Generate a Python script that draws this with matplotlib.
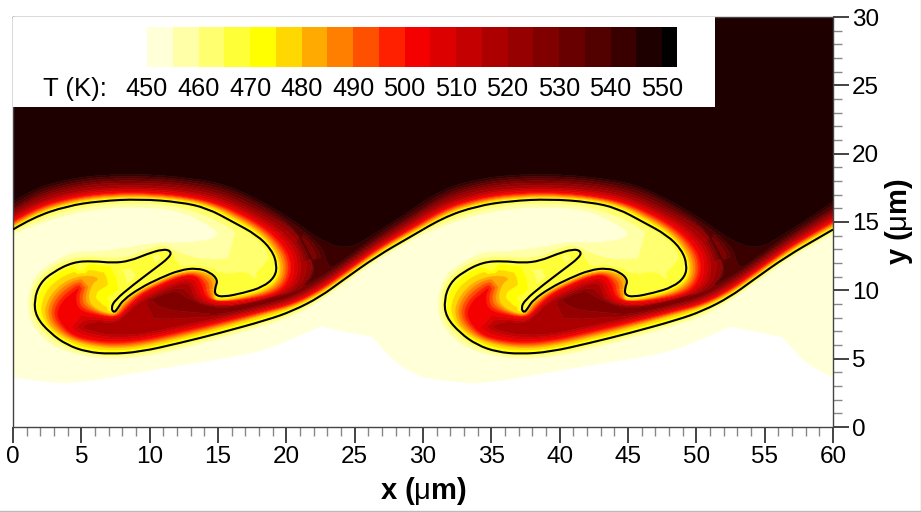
import numpy as np
import matplotlib
matplotlib.use("Agg")
from matplotlib import pyplot as plt
from matplotlib.lines import Line2D
from matplotlib.patches import PathPatch, Rectangle
from matplotlib.path import Path
from matplotlib.ticker import MultipleLocator
from matplotlib.transforms import Affine2D

plt.rcParams['font.family'] = ['Liberation Sans', 'DejaVu Sans']
plt.rcParams['mathtext.fontset'] = 'custom'
plt.rcParams['mathtext.rm'] = 'Liberation Sans'

# temperature contours, one period (x from 0 to 30 um)
T_ISO = 467
iso_line = [(0,14.45),(1.46,15.33),(3.95,16.17),(6.37,16.54),(9.29,16.68),(12.22,16.46),(14.2,16.02),(16.1,15.0),
    (17.85,14.05),(18.95,12.95),(19.32,11.85),(19.17,10.98),(18.29,10.24),(16.83,9.8),(15.37,9.51),(14.78,9.66),
    (14.78,10.17),(15.0,10.76),(14.41,11.34),(13.46,11.63),(12.22,11.49),(10.76,10.9),(9.29,10.17),(8.05,9.29),
    (7.68,8.71),(7.39,8.34),(7.17,8.71),(7.46,9.29),(8.78,10.39),(10.24,11.49),(11.49,12.44),(11.56,12.88),
    (10.98,13.02),(9.8,12.66),(8.56,12.15),(7.32,12.0),(5.85,12.15),(4.39,12.07),(2.93,11.34),(1.98,10.54),
    (1.54,9.29),(1.68,8.05),(2.71,6.88),(3.95,6.0),(5.41,5.49),(7.1,5.34),(9.29,5.49),(12.22,6.15),(15.15,6.88),
    (18.59,7.83),(20.49,8.5),(22.46,9.51),(24.15,10.75),(26.63,12.5),(29.05,13.9),(30,14.45)]
t450 = [(0,3.66),(2.71,3.22),(5.12,3.29),(8.78,3.95),(13.68,4.76),(18.07,5.49),(20.49,6.51),(22.46,7.32),(23.71,8.12),
    (24.29,8.12),(25.39,7.61),(26.85,5.98),(28.32,4.37),(30,3.66)]
t455 = [(0,14.1),(2.71,15.27),(6.37,16.0),(9.29,16.12),(11.98,15.87),(14.17,14.9),(15.34,13.92),(12.71,13.44),(10.76,13.56),
    (8.81,13.19),(6.37,12.83),(4.41,12.83),(3.2,12.22),(1.73,11.24),(1.12,9.78),(1.12,8.07),(1.85,6.85),(3.2,5.75),
    (5.39,5.14),(7.34,4.97),(9.54,5.14),(12.22,5.68),(15.15,6.48),(18.56,7.46),(20.51,8.1),(22.46,9.22),(24.41,10.6),
    (26.61,12.2),(29.05,13.6),(30,14.1)]
t460 = [(0,14.3),(2.71,15.56),(6.37,16.31),(9.29,16.41),(11.98,16.17),(14.42,15.39),(16.12,14.41),(17.59,13.44),
    (17.83,12.58),(16.12,12.34),(13.68,12.22),(11.98,12.83),(11.0,13.36),(9.78,13.0),(8.56,12.46),(7.34,12.34),
    (5.88,12.46),(4.41,12.41),(2.95,11.78),(1.73,10.75),(1.32,9.53),(1.42,8.07),(2.27,6.85),(3.56,5.95),(5.39,5.34),
    (7.34,5.17),(9.54,5.34),(12.22,5.9),(15.15,6.68),(18.56,7.63),(20.51,8.3),(22.46,9.37),(24.41,10.75),(26.61,12.35),
    (29.05,13.75),(30,14.3)]
t480 = [(0,14.7),(1.49,15.6),(3.93,16.41),(6.37,16.8),(9.29,16.9),(12.22,16.7),(14.42,16.24),(16.37,15.27),(18.07,14.29),
    (19.17,13.07),(19.66,11.85),(19.49,10.75),(18.56,9.97),(16.85,9.48),(15.39,9.24),(14.66,9.29),(14.78,9.9),(14.85,10.75),
    (14.29,11.19),(13.44,11.41),(12.22,11.29),(10.76,10.7),(9.29,9.97),(8.07,9.09),(7.64,8.44),(7.34,8.19),(6.12,8.56),
    (5.44,9.29),(5.76,10.51),(6.37,10.87),(5.39,11.12),(3.93,10.75),(2.95,9.9),(2.46,9.05),(2.34,8.31),(2.71,7.34),
    (3.93,6.48),(5.39,6.0),(7.34,5.75),(9.54,5.95),(12.22,6.56),(15.15,7.29),(18.56,8.27),(20.49,8.8),(22.46,9.78),
    (24.41,11.15),(26.61,12.75),(29.05,14.2),(30,14.7)]
t500 = [(0,15.05),(1.49,15.97),(3.93,16.73),(6.37,17.09),(9.29,17.19),(12.22,16.97),(14.66,16.48),(16.61,15.63),(18.56,14.53),
    (19.98,13.07),(20.39,11.85),(20.15,10.63),(19.29,9.75),(16.85,9.24),(14.9,9.1),(14.05,9.53),(13.81,10.51),(13.32,11.12),
    (12.22,11.0),(10.76,10.39),(9.29,9.66),(8.32,8.68),(7.59,7.95),(6.12,8.19),(4.78,8.56),(4.54,9.53),(4.9,10.27),(4.3,9.8),
    (3.6,9.2),(3.2,8.4),(3.4,7.7),(4.29,6.73),(5.64,6.36),(7.34,6.19),(9.54,6.36),(12.22,6.97),(15.15,7.66),(18.56,8.55),
    (20.49,9.05),(22.46,10.07),(24.41,11.45),(26.61,13.05),(29.05,14.5),(30,15.05)]
t515 = [(0,15.45),(1.49,16.33),(3.93,17.09),(6.37,17.46),(9.29,17.53),(12.22,17.34),(14.9,16.85),(17.1,15.87),(19.29,14.66),
    (20.76,13.19),(21.12,11.85),(20.88,10.51),(19.78,9.7),(17.1,9.0),(15.0,8.75),(13.32,9.29),(12.95,10.51),(12.22,10.51),
    (10.76,9.9),(9.29,9.17),(8.32,8.31),(7.59,7.58),(5.88,7.75),(4.9,7.3),(5.88,6.95),(7.34,6.7),
    (9.54,6.8),(12.22,7.41),(15.15,8.0),(18.56,8.8),(20.49,9.35),(22.46,10.39),(24.41,11.75),(26.61,13.35),(29.05,14.85),(30,15.45)]
t525 = [(0,15.75),(1.49,16.7),(3.93,17.46),(6.37,17.83),(9.29,17.87),(12.22,17.7),(15.15,17.14),(17.59,16.0),(20.02,14.78),
    (21.61,13.31),(21.98,11.97),(21.5,10.45),(20.51,9.85),(19,9.45),(17.59,9.05),(14.9,8.6),(12.71,9.41),(11.98,10.02),(10.51,9.53),
    (10.0,9.25),(11.24,8.55),(13.68,8.35),(15.15,8.2),(18.56,9.0),(20.49,9.55),(22.46,10.63),
    (24.41,12.0),(26.61,13.6),(29.05,15.15),(30,15.75)]
t535 = [(0,16.0),(1.49,17.03),(3.93,17.78),(6.37,18.14),(9.29,18.19),(12.22,18.02),(15.39,17.46),(18.07,16.24),(20.51,14.7),
    (21.73,12.71),(22.1,11.49),(21.73,10.76),(21.24,10.32),(22.95,11.24),(24.66,12.4),(26.61,13.85),(29.05,15.4),(30,16.0)]
t540 = [(0,16.25),(1.49,17.23),(3.93,17.95),(6.37,18.3),(9.29,18.35),(12.22,18.17),(15.39,17.65),(18.07,16.4),(20.51,14.9),
    (22.7,13.2),(23.07,11.5),(24.17,12.2),(26.61,14.05),(29.05,15.6),(30,16.25)]
t545 = [(0,16.5),(1.49,17.43),(3.93,18.12),(6.37,18.44),(9.29,18.51),(12.22,18.31),(15.39,17.83),(18.07,16.6),(20.51,15.15),
    (22.46,13.68),(24.53,12.95),(26.61,14.25),(29.05,15.8),(30,16.5)]

# single readings between the contours
t452 = [(9,14.5),(5,14),(12,14.8),(0.5,12),(0,9),(2,13.5),(28,10),(25,9.5),(14,13.9)]
t463 = [(17.5,11.5),(15,11.8),(12.8,12.0),(8.5,11),(10.5,12.4)]
t466 = [(8.5,9.9),(10.5,10.8),(5,11.6)]
t469 = [(17,10.5),(15.7,10.3),(18.5,11)]
t472 = [(6.37,9.53),(6.85,9.05)]
t528 = [(11.2,9.0),(13.6,9.0),(15.6,8.55),(17.5,8.9),(19.5,9.45)]
t548 = [(x,y) for y in (19.5,25,31) for x in (0,5,10,15,20,25)]
t440 = [(x,y) for y in (-1,1.5) for x in (0,5,10,15,20,25)]

contours = [(450,t450),(454.9,t455),(460,t460),(T_ISO,iso_line),(480,t480),(500,t500),(515,t515),(525,t525),(535,t535),(540,t540),(545,t545)]
spots = [(452,t452),(463,t463),(466,t466),(469,t469),(472,t472),(528,t528),(548,t548),(440,t440)]

levels = list(range(450,560,5))
colours = ["#FFFFD8","#FFFFA8","#FFFF70","#FFFF38","#FFFF00","#FFD800","#FFAA00","#FF7F00","#FF5000","#FF2000","#F50000",
    "#DC0000","#C40000","#AC0000","#960000","#800000","#690000","#520000","#3A0000","#1F0000","#000000"]
legend_ticks = list(range(450,560,10))
x_ticks = list(range(0,65,5))
y_ticks = list(range(0,35,5))


def smooth_path(points):
    # quadratic curve through the midpoints of the read points
    pts = np.array(points)
    verts = [pts[0]]
    codes = [Path.MOVETO]
    for i in range(1,len(pts)-1):
        end = pts[i+1] if i==len(pts)-2 else (pts[i]+pts[i+1])/2
        verts += [pts[i],end]
        codes += [Path.CURVE3,Path.CURVE3]
    return Path(verts,codes)


fig = plt.figure(figsize=(9.21,5.12),dpi=100)
ax = fig.add_axes([13/921,85/512,820/921,410/512])

# contours are flattened from their smooth path so the mesh follows them
points = {}
for T,pts in contours:
    flat = smooth_path(pts).to_polygons(Affine2D().scale(40),closed_only=False)[0]/40
    flat = Path(flat).interpolated(4).vertices
    for x,y in flat[:-1]:
        points[(round(x,3),round(y,3))] = T
for T,pts in spots:
    for x,y in pts:
        points[(x,y)] = T

xs,ys,zs = [],[],[]
for offset in (-30,0,30,60):
    for (x,y),T in points.items():
        xs.append(x+offset)
        ys.append(y)
        zs.append(T)
field = ax.tricontourf(xs,ys,zs,levels=levels,colors=colours,antialiased=True)
field.set_edgecolor("face")
field.set_linewidth(0.4)

for offset in (0,30):
    line = [(x+offset,y) for x,y in iso_line]
    ax.add_patch(PathPatch(smooth_path(line),fill=False,edgecolor="black",lw=1.5,zorder=3))

ax.set_xlim(0,60)
ax.set_ylim(0,30)
ax.set_xticks(x_ticks)
ax.set_yticks(y_ticks)
ax.xaxis.set_minor_locator(MultipleLocator(1))
ax.yaxis.set_minor_locator(MultipleLocator(1))
ax.yaxis.tick_right()
ax.yaxis.set_label_position("right")
ax.tick_params(which="major",length=11.5,width=1.2,labelsize=17.5,color="#222222",pad=2)
ax.tick_params(which="minor",length=6.5,width=1,color="#888888")
ax.set_xlabel(r"x ($\mathrm{\mu}$m)",fontsize=21,fontweight="bold",labelpad=5)
ax.set_ylabel(r"y ($\mathrm{\mu}$m)",fontsize=21,fontweight="bold",labelpad=3)
for s in ax.spines.values():
    s.set_linewidth(1)
    s.set_color("#444444")

# white legend box in the upper left
ax.add_patch(Rectangle((0,23.41),51.37,6.59,facecolor="white",edgecolor="none",zorder=4))

leg = fig.add_axes([147/921,445/512,530/921,40/512],zorder=5)
leg.bar(levels[:-1],[1]*len(colours),width=5,align="edge",color=colours)
leg.set_xlim(450,552.9)
leg.set_ylim(0,1)
leg.set_yticks([])
leg.set_xticks(legend_ticks)
leg.tick_params(axis="x",length=0,labelsize=18.2,pad=7)
for s in leg.spines.values():
    s.set_visible(False)
fig.text(43/921,423/512,"T (K):",fontsize=18.5,va="center",ha="left",zorder=6)

# thin grey edge of the picture, bottom and right
fig.add_artist(Line2D([0,1],[0.001,0.001],color="#bbbbbb",lw=1))
fig.add_artist(Line2D([0.9995,0.9995],[0,1],color="#bbbbbb",lw=1))

fig.savefig("out.png",dpi=100)
